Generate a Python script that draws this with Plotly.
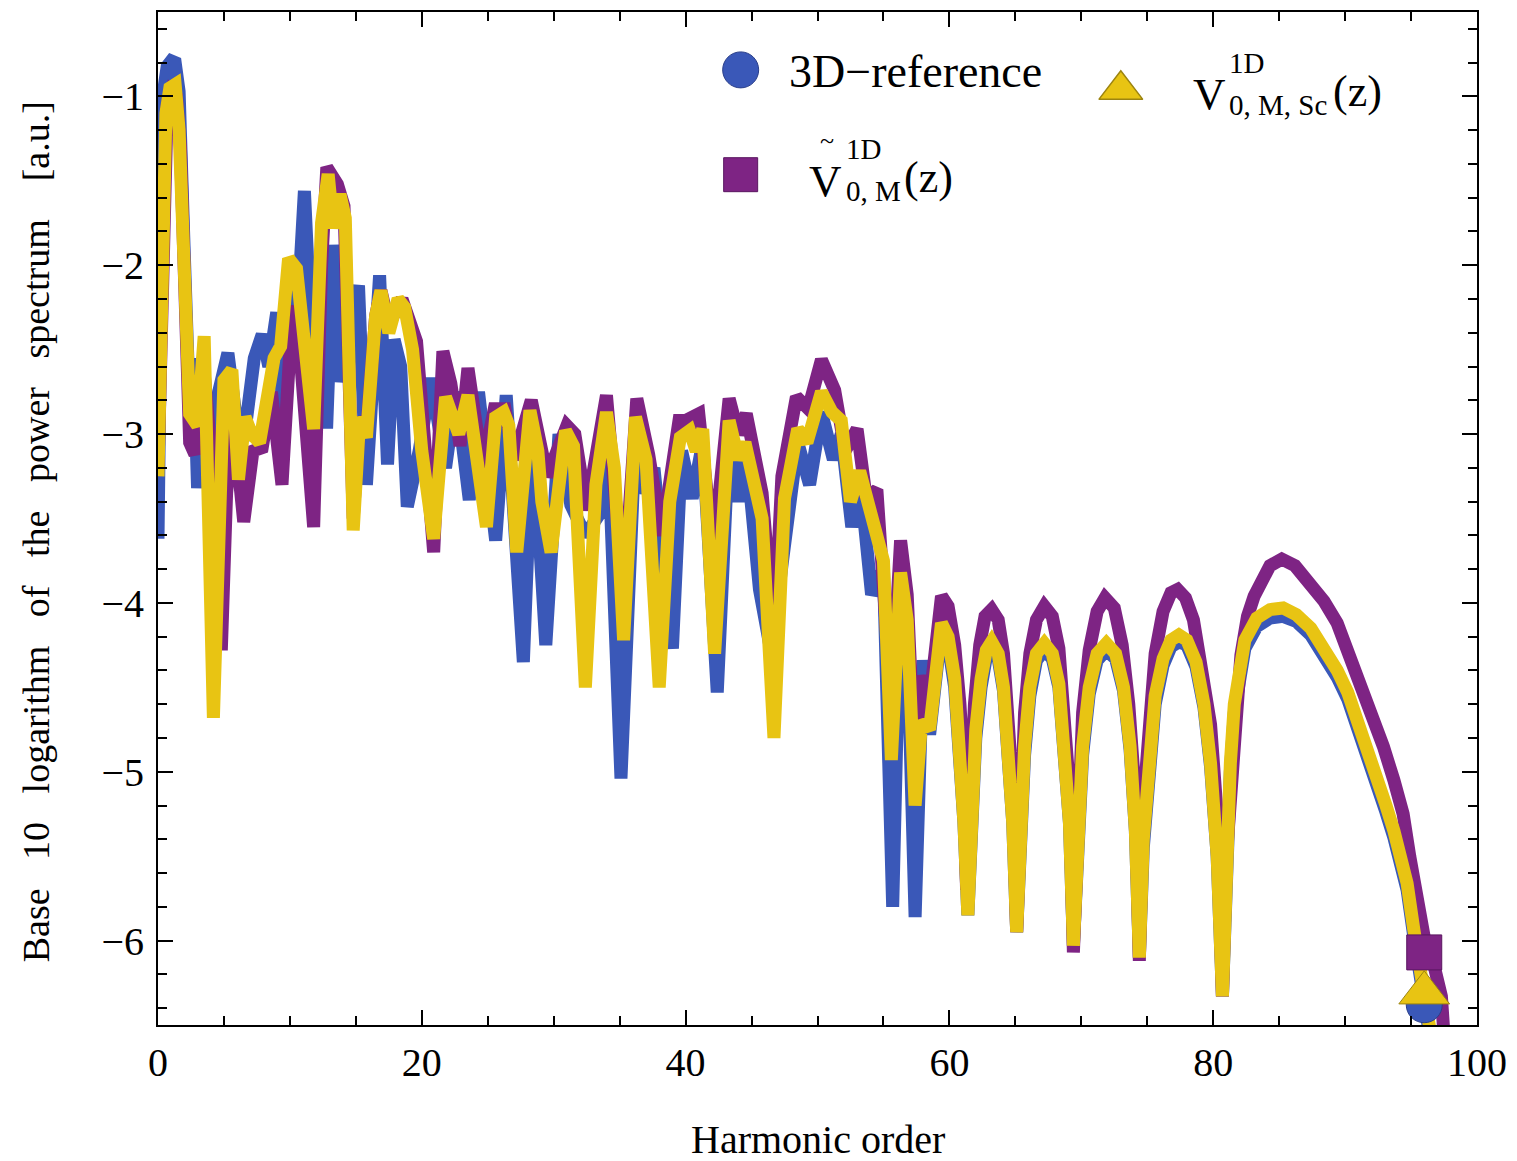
import plotly.graph_objects as go

# ---------------- data: log10 power spectrum vs harmonic order ----------------
ref3d_x = [0, 0.4, 0.7, 1.0, 1.3, 1.6, 2.0, 2.4, 2.7, 3.0, 3.5, 4.0, 4.6, 5.3, 6.0, 6.6, 7.3, 7.9,
           8.4, 9.0, 9.5, 10.2, 10.6, 11.1, 11.6, 12.3, 12.8, 13.3, 13.9, 14.5, 15.2, 15.8, 16.8,
           17.4, 17.9, 18.4, 18.9, 19.8, 20.7, 21.8, 22.6, 23.6, 24.3, 25.6, 26.4, 27.7, 28.4, 29.4,
           30.4, 31.3, 32.4, 33.5, 34.1, 35.1, 36.2, 37.0, 37.6, 39.0, 39.7, 40.5, 41.3, 42.4, 43.3,
           44.0, 44.6, 45.6, 46.5, 47.3, 48.5, 49.4, 50.3, 51.2, 51.8, 52.6, 53.2, 54.1, 55.0, 55.7,
           56.3, 56.8, 57.4, 58.0, 58.5, 59.4, 59.9, 60.4, 60.8, 61.1, 61.4, 61.7, 62.0, 62.4, 62.8,
           63.2, 63.7, 64.1, 64.5, 64.8, 65.1, 65.4, 65.7, 66.1, 66.6, 67.2, 67.8, 68.3, 68.7, 69.1,
           69.4, 69.7, 70.1, 70.6, 71.2, 71.9, 72.6, 73.2, 73.7, 74.1, 74.4, 74.7, 75.1, 75.6, 76.2,
           76.8, 77.4, 78.0, 78.7, 79.3, 79.8, 80.3, 80.7, 81.0, 81.3, 81.6, 82.0, 82.4, 83.3, 84.3,
           85.3, 86.3, 87.4, 88.4, 89.4, 90.2, 90.9, 91.7, 92.4, 93.1, 93.7, 94.2, 94.7, 95.2, 95.6,
           96.0, 96.5, 97.0]
ref3d_y = [-3.62, -0.98, -0.82, -0.79, -0.8, -0.97, -1.95, -2.88, -2.55, -3.32, -2.7, -3.0, -2.75,
           -2.52, -2.95, -2.98, -2.55, -2.41, -2.6, -2.28, -2.9, -2.12, -2.25, -1.56, -2.4, -2.93,
           -2.93, -1.88, -2.69, -2.45, -2.12, -3.3, -2.06, -3.18, -2.44, -2.6, -3.43, -3.1, -2.67,
           -3.2, -2.75, -3.39, -2.75, -3.63, -2.77, -4.35, -2.95, -4.25, -3.0, -3.42, -3.6, -3.47,
           -3.0, -5.04, -3.0, -3.35, -3.2, -4.27, -3.1, -3.38, -3.05, -4.53, -3.0, -3.4, -3.1, -3.92,
           -4.3, -3.78, -3.05, -3.3, -2.87, -3.15, -3.0, -3.55, -3.25, -3.95, -3.8, -5.8, -3.86,
           -4.2, -5.86, -4.34, -4.78, -4.15, -4.24, -4.5, -4.85, -5.3, -5.85, -5.25, -4.8, -4.5,
           -4.32, -4.27, -4.33, -4.52, -4.87, -5.3, -5.95, -5.35, -4.9, -4.55, -4.34, -4.28, -4.33,
           -4.5, -4.82, -5.3, -6.03, -5.4, -4.9, -4.54, -4.34, -4.28, -4.33, -4.52, -4.87, -5.35,
           -6.1, -5.45, -4.95, -4.6, -4.37, -4.26, -4.23, -4.25, -4.38, -4.62, -4.97, -5.5, -6.33,
           -5.5, -5.0, -4.65, -4.43, -4.27, -4.14, -4.09, -4.08, -4.11, -4.19, -4.3, -4.44, -4.57,
           -4.72, -4.89, -5.07, -5.24, -5.39, -5.54, -5.7, -5.97, -6.16, -6.37, -6.6, -6.85]

tilde_x = [0, 0.7, 1.0, 1.4, 1.7, 2.4, 2.8, 3.4, 3.9, 4.8, 5.2, 5.7, 6.5, 7.2, 7.9, 8.6, 9.4, 10.2,
           10.7, 11.8, 12.4, 12.8, 13.6, 14.1, 14.8, 15.3, 15.8, 16.5, 16.9, 17.5, 18.5, 19.0, 19.6,
           20.9, 21.6, 22.2, 22.9, 23.5, 24.6, 25.5, 26.3, 27.0, 28.3, 29.5, 31.0, 31.6, 32.5, 34.0,
           35.3, 36.3, 37.2, 38.2, 39.5, 40.0, 41.0, 42.1, 43.3, 44.0, 44.6, 45.8, 46.7, 47.3, 48.4,
           49.3, 50.3, 51.3, 52.1, 53.0, 53.7, 54.5, 55.6, 56.3, 56.8, 57.4, 57.8, 58.4, 59.4, 59.9,
           60.4, 60.8, 61.1, 61.3, 61.6, 61.9, 62.3, 62.7, 63.2, 63.7, 64.1, 64.5, 64.8, 65.1, 65.4,
           65.7, 66.1, 66.6, 67.2, 67.8, 68.3, 68.7, 69.1, 69.4, 69.7, 70.1, 70.6, 71.2, 71.8, 72.5,
           73.1, 73.6, 74.1, 74.4, 74.7, 75.1, 75.6, 76.2, 76.8, 77.3, 77.9, 78.5, 79.2, 79.8, 80.3,
           80.7, 81.0, 81.3, 81.7, 82.1, 82.6, 83.1, 84.3, 85.2, 86.2, 87.4, 88.4, 89.4, 90.4, 91.4,
           92.2, 92.9, 93.7, 94.4, 94.9, 95.5, 96.0, 96.5, 97.0, 97.3, 97.7]
tilde_y = [-3.2, -1.05, -0.97, -1.0, -1.3, -3.05, -3.12, -2.55, -3.0, -4.28, -3.35, -2.9, -3.52,
           -3.1, -3.08, -2.75, -3.3, -2.24, -2.45, -3.55, -2.0, -1.42, -1.52, -1.65, -3.5, -2.9,
           -3.0, -2.3, -2.15, -2.35, -2.2, -2.3, -2.45, -3.7, -2.51, -2.7, -3.07, -2.61, -3.2,
           -2.85, -2.85, -3.15, -2.8, -3.25, -2.95, -3.0, -3.45, -2.77, -3.95, -2.79, -3.12, -3.6,
           -2.92, -2.92, -2.88, -3.7, -2.79, -3.0, -2.88, -3.35, -4.2, -3.25, -2.78, -2.85, -2.56,
           -2.74, -3.1, -2.97, -3.38, -3.33, -4.6, -3.63, -3.95, -5.0, -4.43, -4.65, -3.96, -4.02,
           -4.25, -4.6, -5.0, -5.7, -5.1, -4.6, -4.25, -4.08, -4.04, -4.1, -4.3, -4.65, -5.1, -5.95,
           -5.1, -4.65, -4.3, -4.1, -4.02, -4.08, -4.27, -4.6, -5.1, -6.07, -5.15, -4.65, -4.28,
           -4.05, -3.97, -4.03, -4.25, -4.6, -5.15, -6.12, -5.2, -4.65, -4.3, -4.05, -3.94, -3.92,
           -3.97, -4.1, -4.4, -4.72, -5.25, -6.33, -5.5, -5.1, -4.6, -4.31, -4.08, -3.96, -3.78,
           -3.74, -3.78, -3.88, -3.99, -4.12, -4.32, -4.52, -4.68, -4.85, -5.05, -5.25, -5.5, -5.78,
           -5.98, -6.07, -6.2, -6.33, -6.8]

sc_x = [0, 0.6, 0.9, 1.3, 1.6, 2.4, 3.0, 3.5, 4.2, 5.0, 5.6, 6.1, 6.6, 7.1, 7.7, 8.2, 8.8, 9.3,
        9.9, 10.5, 11.0, 11.8, 12.4, 12.9, 13.3, 13.8, 14.2, 14.8, 15.3, 15.8, 16.5, 16.9, 17.5,
        18.2, 18.7, 19.3, 20.0, 20.9, 21.8, 22.8, 23.5, 24.9, 25.6, 26.2, 26.6, 27.2, 28.2, 28.8,
        29.1, 29.8, 30.9, 31.5, 32.4, 33.2, 34.0, 34.6, 35.3, 36.2, 37.0, 38.0, 38.8, 39.6, 40.3,
        40.8, 41.3, 42.2, 43.3, 44.0, 44.5, 45.8, 46.7, 47.5, 48.5, 49.2, 50.3, 51.1, 51.8, 52.5,
        53.2, 54.4, 55.0, 55.6, 56.3, 56.8, 57.4, 57.9, 58.5, 59.4, 59.9, 60.4, 60.8, 61.1, 61.4,
        61.7, 62.0, 62.4, 62.8, 63.2, 63.7, 64.1, 64.5, 64.8, 65.1, 65.4, 65.7, 66.1, 66.6, 67.2,
        67.8, 68.3, 68.7, 69.1, 69.4, 69.7, 70.1, 70.6, 71.2, 71.9, 72.6, 73.2, 73.7, 74.1, 74.4,
        74.7, 75.1, 75.6, 76.2, 76.8, 77.4, 78.0, 78.7, 79.3, 79.8, 80.3, 80.7, 81.0, 81.3, 81.6,
        82.0, 82.4, 83.3, 84.3, 85.3, 86.3, 87.4, 88.4, 89.4, 90.2, 90.9, 91.7, 92.4, 93.1, 93.7,
        94.2, 94.7, 95.2, 95.6, 96.0, 96.5, 97.0]
sc_y = [-3.25, -1.1, -0.95, -0.93, -1.2, -2.88, -2.95, -2.42, -4.68, -2.68, -2.62, -3.27, -2.9,
        -3.0, -3.05, -2.8, -2.55, -2.48, -1.96, -2.02, -2.35, -2.97, -1.75, -1.46, -1.78, -1.58,
        -1.72, -3.57, -2.9, -3.02, -2.3, -2.15, -2.4, -2.2, -2.25, -2.5, -3.1, -3.62, -2.78, -3.0,
        -2.77, -3.55, -2.9, -2.87, -2.95, -3.7, -2.86, -3.1, -3.4, -3.7, -2.98, -3.07, -4.5, -3.3,
        -2.87, -3.2, -4.22, -2.9, -3.15, -4.5, -3.4, -3.02, -2.98, -3.1, -2.97, -4.3, -2.92, -3.15,
        -3.05, -3.5, -4.8, -3.38, -2.97, -3.05, -2.75, -2.87, -2.92, -3.4, -3.22, -3.55, -3.75,
        -4.93, -3.82, -4.1, -5.2, -4.7, -4.75, -4.12, -4.2, -4.45, -4.85, -5.3, -5.85, -5.2,
        -4.75, -4.45, -4.28, -4.23, -4.3, -4.5, -4.85, -5.3, -5.95, -5.3, -4.85, -4.5, -4.3,
        -4.24, -4.3, -4.48, -4.8, -5.3, -6.03, -5.35, -4.85, -4.5, -4.3, -4.24, -4.3, -4.5, -4.85,
        -5.35, -6.1, -5.4, -4.9, -4.55, -4.33, -4.22, -4.19, -4.22, -4.35, -4.6, -4.95, -5.5,
        -6.33, -5.45, -4.95, -4.6, -4.38, -4.22, -4.09, -4.04, -4.03, -4.07, -4.15, -4.26, -4.4,
        -4.53, -4.68, -4.85, -5.03, -5.2, -5.35, -5.5, -5.66, -5.93, -6.12, -6.31, -6.55, -6.8]

# plot-marker positions at the end of each curve
end_x = [96.0, 96.0, 96.0]          # 3D-reference, tilde-V, V_Sc
end_y = [-6.38, -6.07, -6.31]

# axis ticks
x_ticks = [0, 20, 40, 60, 80, 100]
y_ticks = [-1, -2, -3, -4, -5, -6]

BLUE = "#3A58B8"
PURPLE = "#7E2484"
YELLOW = "#E8C413"
SERIF = "Liberation Serif"

# plot area in pixels (figure 1517 x 1161)
L, R, T, B = 158, 1480, 10, 1025


def px(xp):
    return (xp - L) / (R - L)


def py(yp):
    return (B - yp) / (B - T)


fig = go.Figure()

line_w = 13
fig.add_trace(go.Scatter(x=ref3d_x, y=ref3d_y, mode="lines",
                         line=dict(color=BLUE, width=line_w), showlegend=False))
fig.add_trace(go.Scatter(x=tilde_x, y=tilde_y, mode="lines",
                         line=dict(color=PURPLE, width=line_w), showlegend=False))
fig.add_trace(go.Scatter(x=sc_x, y=sc_y, mode="lines",
                         line=dict(color=YELLOW, width=line_w), showlegend=False))

# end-point markers
fig.add_trace(go.Scatter(x=[end_x[0]], y=[end_y[0]], mode="markers",
                         marker=dict(symbol="circle", size=36, color=BLUE,
                                     line=dict(color="#2A3F8A", width=1)),
                         showlegend=False, cliponaxis=False))
fig.add_trace(go.Scatter(x=[end_x[1]], y=[end_y[1]], mode="markers",
                         marker=dict(symbol="square", size=35, color=PURPLE,
                                     line=dict(color="#5A1660", width=1)),
                         showlegend=False, cliponaxis=False))
fig.add_trace(go.Scatter(x=[end_x[2]], y=[end_y[2]], mode="markers",
                         marker=dict(symbol="triangle-up", size=44, color=YELLOW,
                                     line=dict(color="#9C8410", width=1)),
                         showlegend=False, cliponaxis=False))

# legend symbols on an overlay axis spanning the plot area (0..1)
fig.add_trace(go.Scatter(x=[px(742)], y=[py(68)], mode="markers", xaxis="x2", yaxis="y2",
                         marker=dict(symbol="circle", size=36, color=BLUE,
                                     line=dict(color="#2A3F8A", width=1)),
                         showlegend=False, cliponaxis=False))
fig.add_trace(go.Scatter(x=[px(742)], y=[py(173)], mode="markers", xaxis="x2", yaxis="y2",
                         marker=dict(symbol="square", size=34, color=PURPLE,
                                     line=dict(color="#5A1660", width=1)),
                         showlegend=False, cliponaxis=False))
fig.add_trace(go.Scatter(x=[px(1123)], y=[py(88)], mode="markers", xaxis="x2", yaxis="y2",
                         marker=dict(symbol="triangle-up", size=38, color=YELLOW,
                                     line=dict(color="#9C8410", width=1.5)),
                         showlegend=False, cliponaxis=False))

annotations = []


def label(text, xp, yp, size, anchor="left", angle=0):
    annotations.append(dict(text=text, x=px(xp), y=py(yp), xref="paper", yref="paper",
                            xanchor=anchor, yanchor="middle", showarrow=False,
                            textangle=angle, font=dict(family=SERIF, size=size, color="black")))


# legend texts
label("3D\u2212reference", 788, 70, 46)
label("V", 808, 179, 45)
label("~", 820, 139, 26)
label("1D", 846, 147, 29)
label("0, M", 846, 189, 29)
label("(z)", 904, 176, 44)

label("V", 1193, 92, 45)
label("1D", 1229, 61, 29)
label("0, M, Sc", 1229, 103, 29)
label("(z)", 1334, 90, 44)

# axis titles
label("Harmonic order", 820, 1140, 40, anchor="center")
gap = "\u00a0" * 3
ytitle = gap.join(["Base", "10", "logarithm", "of", "the", "power", "spectrum", "\u00a0[a.u.]"])
label(ytitle, 36, 531, 38, anchor="center", angle=-90)

axis_common = dict(showline=True, linecolor="black", linewidth=2, mirror="ticks",
                   ticks="inside", tickcolor="black", tickwidth=2, ticklen=15,
                   showgrid=False, zeroline=False,
                   tickfont=dict(family=SERIF, size=40, color="black"))

fig.update_layout(
    width=1517, height=1161,
    margin=dict(l=L, r=1517 - R, t=T, b=1161 - B, pad=0),
    paper_bgcolor="white", plot_bgcolor="white",
    showlegend=False,
    xaxis=dict(range=[0, 100], tickmode="array", tickvals=x_ticks,
               ticktext=[str(v) for v in x_ticks], ticklabelstandoff=1,
               minor=dict(dtick=5, tick0=0, ticks="inside", ticklen=9, tickwidth=2,
                          tickcolor="black"),
               **axis_common),
    yaxis=dict(range=[-6.5, -0.5], tickmode="array", tickvals=y_ticks,
               ticktext=["\u2212" + str(abs(v)) for v in y_ticks], ticklabelstandoff=4,
               minor=dict(dtick=0.2, tick0=0, ticks="inside", ticklen=9, tickwidth=2,
                          tickcolor="black"),
               **axis_common),
    xaxis2=dict(range=[0, 1], overlaying="x", visible=False, fixedrange=True),
    yaxis2=dict(range=[0, 1], overlaying="y", visible=False, fixedrange=True),
    annotations=annotations,
)

fig.write_html("out.html")
